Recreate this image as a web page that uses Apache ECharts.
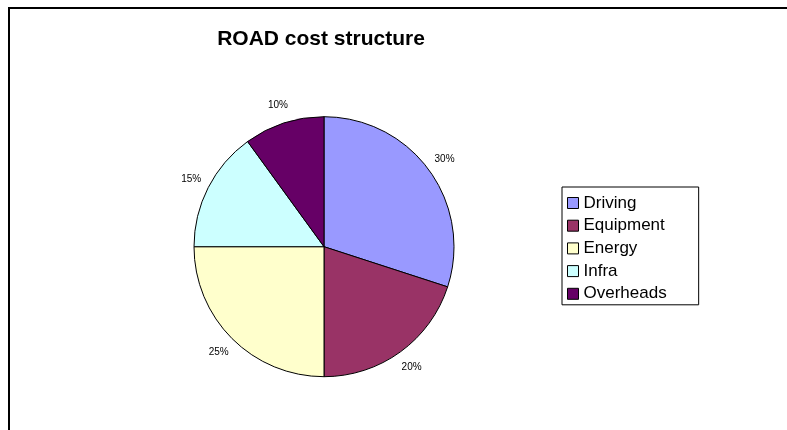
<!DOCTYPE html>
<html>
<head>
<meta charset="utf-8">
<style>
  html, body { margin: 0; padding: 0; background: #fff; }
  #chart { width: 787px; height: 430px; }
</style>
<script src="https://cdn.jsdelivr.net/npm/echarts@6/dist/echarts.min.js"></script>
</head>
<body>
<div id="chart"></div>
<script>
// Cost shares (%) of the ROAD mode
const categories = ['Driving', 'Equipment', 'Energy', 'Infra', 'Overheads'];
const shares = [30, 20, 25, 15, 10];
const sliceColors = ['#9999FF', '#993366', '#FFFFCC', '#CCFFFF', '#660066'];

const chart = echarts.init(document.getElementById('chart'), null, { renderer: 'canvas' });

const slices = categories.map((name, i) => ({
  name: name,
  value: shares[i],
  itemStyle: { color: sliceColors[i] }
}));

const center = [324, 246.7];

chart.setOption({
  backgroundColor: '#ffffff',
  animation: false,
  title: {
    text: 'ROAD cost structure',
    left: 316,
    top: 24,
    textAlign: 'center',
    textStyle: {
      fontFamily: 'Liberation Sans, Arial, sans-serif',
      fontSize: 21,
      fontWeight: 'bold',
      color: '#000'
    }
  },
  legend: {
    orient: 'vertical',
    left: 562,
    top: 187,
    data: categories,
    itemWidth: 11,
    itemHeight: 11,
    itemGap: 2.7,
    itemTextGap: 4,
    padding: [6, 32, 1, 5],
    borderColor: '#000',
    borderWidth: 1,
    backgroundColor: '#fff',
    selectedMode: false,
    icon: 'rect',
    itemStyle: { borderColor: '#000', borderWidth: 1 },
    textStyle: {
      fontFamily: 'Liberation Sans, Arial, sans-serif',
      fontSize: 17,
      lineHeight: 20,
      color: '#000',
      padding: 0
    }
  },
  graphic: [{
    type: 'rect',
    shape: { x: 9, y: 8, width: 1000, height: 1000 },
    style: { fill: 'none', stroke: '#000', lineWidth: 2 },
    silent: true,
    z: -10
  }],
  series: [
    {
      name: 'cost',
      type: 'pie',
      center: center,
      radius: 130,
      startAngle: 90,
      clockwise: true,
      label: { show: false },
      labelLine: { show: false },
      itemStyle: { borderColor: '#000', borderWidth: 1 },
      emphasis: { disabled: true },
      data: slices
    },
    {
      // ring just outside the pie that only carries the percentage labels
      name: 'labels',
      type: 'pie',
      center: center,
      radius: [130, 162],
      startAngle: 90,
      clockwise: true,
      silent: true,
      itemStyle: { color: 'rgba(0,0,0,0)', borderWidth: 0 },
      label: {
        show: true,
        position: 'inside',
        formatter: '{c}%',
        fontFamily: 'Liberation Sans, Arial, sans-serif',
        fontSize: 10,
        color: '#000'
      },
      labelLine: { show: false },
      emphasis: { disabled: true },
      data: categories.map((name, i) => ({ name: name, value: shares[i] }))
    }
  ]
});
</script>
</body>
</html>
